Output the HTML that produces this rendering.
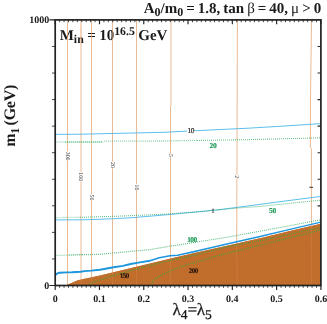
<!DOCTYPE html>
<html><head><meta charset="utf-8"><style>
html,body{margin:0;padding:0;background:#fff;overflow:hidden;}
svg{display:block;font-family:"Liberation Serif",serif;will-change:transform;opacity:0.999;text-rendering:geometricPrecision;}
</style></head><body>
<svg width="327" height="324" viewBox="0 0 327 324">
<rect width="327" height="324" fill="#fff"/>
<polygon points="65.8,285.5 77.8,280.3 100.0,275.6 125.0,269.4 150.0,263.6 175.0,257.4 200.0,251.8 228.0,245.4 260.0,238.2 290.0,231.1 320.9,223.8 320.9,285.5" fill="#c16d2c"/>
<path d="M67.5 20.0 L67.5 285.0" fill="none" stroke="#ecba92" stroke-width="1.0"/>
<path d="M81.0 20.0 L81.0 285.0" fill="none" stroke="#ecba92" stroke-width="1.0"/>
<path d="M91.5 20.0 L91.5 285.0" fill="none" stroke="#ecba92" stroke-width="1.0"/>
<path d="M112.5 20.0 L112.5 285.0" fill="none" stroke="#ecba92" stroke-width="1.0"/>
<path d="M136.5 20.0 L136.5 285.0" fill="none" stroke="#ecba92" stroke-width="1.0"/>
<path d="M171.0 20.0 L171.0 105.0 L170.5 107.0 L170.5 285.0" fill="none" stroke="#ecba92" stroke-width="1.0"/>
<path d="M237.4 20.0 L236.9 185.0 L236.6 259.0 L237.2 262.0 L237.2 285.0" fill="none" stroke="#ecba92" stroke-width="1.0"/>
<path d="M311.5 20.0 L310.5 100.0 L310.4 147.5 L311.4 148.8 L311.5 285.0" fill="none" stroke="#ecba92" stroke-width="1.0"/>
<polygon points="65.8,285.5 77.8,280.3 100.0,275.6 125.0,269.4 150.0,263.6 175.0,257.4 200.0,251.8 228.0,245.4 260.0,238.2 290.0,231.1 320.9,223.8 320.9,285.5" fill="#c16d2c" fill-opacity="0.86"/>
<path d="M55.3 134.4 L82.0 134.2 L120.0 133.3 L164.0 132.3 L200.0 130.5 L246.0 128.3 L280.0 126.3 L320.9 123.6" fill="none" stroke="#4ab8ea" stroke-width="0.9"/>
<path d="M55.3 219.9 L82.0 219.8 L100.0 219.3 L115.0 218.6 L130.0 217.8 L150.0 216.2 L164.0 215.0 L200.0 211.6 L220.0 209.6 L246.0 206.2 L280.0 201.7 L320.9 196.4" fill="none" stroke="#4ab8ea" stroke-width="0.9"/>
<path d="M55.3 142.0 L65.0 142.0" fill="none" stroke="#35ad68" stroke-width="0.70" stroke-opacity="0.50"/>
<path d="M65.0 142.0 L103.0 141.9" fill="none" stroke="#35ad68" stroke-width="1.05" stroke-dasharray="1.4 0.6" stroke-opacity="1.00"/>
<path d="M104.5 141.2 L110.0 141.2 L164.0 141.0 L197.0 140.4" fill="none" stroke="#35ad68" stroke-width="1.30" stroke-dasharray="0.7 1.25" stroke-opacity="0.80"/>
<path d="M197.0 140.5 L200.0 140.4 L246.0 139.7 L320.9 137.8" fill="none" stroke="#35ad68" stroke-width="1.05" stroke-dasharray="0.8 1.2" stroke-opacity="1.00"/>
<path d="M55.3 217.6 L80.0 217.3" fill="none" stroke="#35ad68" stroke-width="1.30" stroke-dasharray="0.5 0.6" stroke-opacity="0.55"/>
<path d="M80.0 217.3 L82.0 217.3 L120.0 216.1 L164.0 214.2 L200.0 211.6 L220.0 209.7 L230.0 208.7 L246.0 207.4 L258.0 206.6 L288.0 203.5 L320.9 200.2" fill="none" stroke="#35ad68" stroke-width="1.05" stroke-dasharray="0.8 1.2" stroke-opacity="1.00"/>
<path d="M55.3 255.4 L69.0 255.1" fill="none" stroke="#35ad68" stroke-width="0.70" stroke-opacity="0.50"/>
<path d="M69.0 255.1 L82.0 254.7" fill="none" stroke="#35ad68" stroke-width="1.00" stroke-dasharray="1.3 0.7" stroke-opacity="0.90"/>
<path d="M82.0 254.7 L100.0 254.3 L150.0 249.6 L170.0 246.2 L185.5 243.9 L197.0 242.0" fill="none" stroke="#35ad68" stroke-width="1.25" stroke-dasharray="0.75 1.25" stroke-opacity="1.00"/>
<path d="M197.0 242.0 L200.0 241.5 L228.0 237.1 L260.0 231.2 L290.0 225.6 L320.9 219.8" fill="none" stroke="#35ad68" stroke-width="1.05" stroke-dasharray="0.8 1.2" stroke-opacity="1.00"/>
<path d="M88.2 285.4 L91.0 283.4 L95.0 281.6 L100.0 280.0 L106.0 277.9 L112.2 275.9 L124.5 272.4 L136.7 269.0 L150.0 265.2 L200.0 253.8 L228.0 246.6 L260.0 240.9 L320.9 227.3" fill="none" stroke="#46a23a" stroke-width="1.3" stroke-dasharray="0.85 1.15"/>
<path d="M151.3 285.2 L153.1 280.9 L156.2 277.8 L162.3 274.7 L170.0 270.9 L177.8 267.8 L187.0 264.7 L200.0 260.8 L222.0 254.6 L260.0 245.2 L320.9 230.0" fill="none" stroke="#46a23a" stroke-width="1.3" stroke-dasharray="0.85 1.15"/>
<path d="M55.6 274.7 L57.5 273.4 L59.5 272.8 L66.8 272.4 L72.2 272.3 L80.6 271.7 L84.5 271.1 L91.3 270.6 L100.0 269.7 L112.2 267.5 L122.9 265.9 L130.6 264.0 L139.8 262.4 L150.0 260.8" fill="none" stroke="#1e96de" stroke-width="1.95" stroke-linejoin="round"/>
<path d="M150.0 260.8 L159.3 257.7 L170.0 255.8 L177.8 255.3 L185.5 253.5 L193.2 251.9 L200.0 250.2" fill="none" stroke="#1e96de" stroke-width="1.65" stroke-linejoin="round"/>
<path d="M200.0 250.2 L228.0 243.8 L260.0 236.5 L290.0 229.4 L320.9 222.1" fill="none" stroke="#1e96de" stroke-width="1.45" stroke-linejoin="round"/>
<rect x="55.2" y="19.9" width="265.7" height="265.6" fill="none" stroke="#222" stroke-width="1.7"/>
<path d="M55.20 285.5 v4.6 M55.20 19.9 v4.4 M99.48 285.5 v4.6 M99.48 19.9 v4.4 M143.77 285.5 v4.6 M143.77 19.9 v4.4 M188.05 285.5 v4.6 M188.05 19.9 v4.4 M232.33 285.5 v4.6 M232.33 19.9 v4.4 M276.62 285.5 v4.6 M276.62 19.9 v4.4 M320.90 285.5 v4.6 M320.90 19.9 v4.4 M55.2 285.50 h-5.8 M320.9 205.82 h-3.3 M320.9 179.26 h-3.3 M320.9 152.70 h-3.3 M320.9 126.14 h-3.3 M320.9 99.58 h-3.3 M320.9 73.02 h-3.3 M320.9 46.46 h-3.3 M55.2 19.90 h-5.8" fill="none" stroke="#222" stroke-width="1.15"/>
<path d="M59.63 285.5 v2.3 M59.63 19.9 v2.3 M64.06 285.5 v2.3 M64.06 19.9 v2.3 M68.48 285.5 v2.3 M68.48 19.9 v2.3 M72.91 285.5 v2.3 M72.91 19.9 v2.3 M77.34 285.5 v2.3 M77.34 19.9 v2.3 M81.77 285.5 v2.3 M81.77 19.9 v2.3 M86.20 285.5 v2.3 M86.20 19.9 v2.3 M90.63 285.5 v2.3 M90.63 19.9 v2.3 M95.06 285.5 v2.3 M95.06 19.9 v2.3 M103.91 285.5 v2.3 M103.91 19.9 v2.3 M108.34 285.5 v2.3 M108.34 19.9 v2.3 M112.77 285.5 v2.3 M112.77 19.9 v2.3 M117.20 285.5 v2.3 M117.20 19.9 v2.3 M121.62 285.5 v2.3 M121.62 19.9 v2.3 M126.05 285.5 v2.3 M126.05 19.9 v2.3 M130.48 285.5 v2.3 M130.48 19.9 v2.3 M134.91 285.5 v2.3 M134.91 19.9 v2.3 M139.34 285.5 v2.3 M139.34 19.9 v2.3 M148.19 285.5 v2.3 M148.19 19.9 v2.3 M152.62 285.5 v2.3 M152.62 19.9 v2.3 M157.05 285.5 v2.3 M157.05 19.9 v2.3 M161.48 285.5 v2.3 M161.48 19.9 v2.3 M165.91 285.5 v2.3 M165.91 19.9 v2.3 M170.34 285.5 v2.3 M170.34 19.9 v2.3 M174.77 285.5 v2.3 M174.77 19.9 v2.3 M179.19 285.5 v2.3 M179.19 19.9 v2.3 M183.62 285.5 v2.3 M183.62 19.9 v2.3 M192.48 285.5 v2.3 M192.48 19.9 v2.3 M196.91 285.5 v2.3 M196.91 19.9 v2.3 M201.33 285.5 v2.3 M201.33 19.9 v2.3 M205.76 285.5 v2.3 M205.76 19.9 v2.3 M210.19 285.5 v2.3 M210.19 19.9 v2.3 M214.62 285.5 v2.3 M214.62 19.9 v2.3 M219.05 285.5 v2.3 M219.05 19.9 v2.3 M223.48 285.5 v2.3 M223.48 19.9 v2.3 M227.91 285.5 v2.3 M227.91 19.9 v2.3 M236.76 285.5 v2.3 M236.76 19.9 v2.3 M241.19 285.5 v2.3 M241.19 19.9 v2.3 M245.62 285.5 v2.3 M245.62 19.9 v2.3 M250.05 285.5 v2.3 M250.05 19.9 v2.3 M254.48 285.5 v2.3 M254.48 19.9 v2.3 M258.90 285.5 v2.3 M258.90 19.9 v2.3 M263.33 285.5 v2.3 M263.33 19.9 v2.3 M267.76 285.5 v2.3 M267.76 19.9 v2.3 M272.19 285.5 v2.3 M272.19 19.9 v2.3 M281.05 285.5 v2.3 M281.05 19.9 v2.3 M285.47 285.5 v2.3 M285.47 19.9 v2.3 M289.90 285.5 v2.3 M289.90 19.9 v2.3 M294.33 285.5 v2.3 M294.33 19.9 v2.3 M298.76 285.5 v2.3 M298.76 19.9 v2.3 M303.19 285.5 v2.3 M303.19 19.9 v2.3 M307.62 285.5 v2.3 M307.62 19.9 v2.3 M312.04 285.5 v2.3 M312.04 19.9 v2.3 M316.47 285.5 v2.3 M316.47 19.9 v2.3 M55.2 258.94 h-3.2 M55.2 232.38 h-3.2 M55.2 205.82 h-3.2 M55.2 179.26 h-3.2 M55.2 152.70 h-3.2 M55.2 126.14 h-3.2 M55.2 99.58 h-3.2 M55.2 73.02 h-3.2 M55.2 46.46 h-3.2" fill="none" stroke="#222" stroke-width="0.85"/>
<text x="321.2" y="13.1" font-size="15.0" text-anchor="end" font-weight="bold" fill="#1a1a1a" word-spacing="-0.75">A<tspan font-size="12" dy="3.2">0</tspan><tspan dy="-3.2">/m</tspan><tspan font-size="12" dy="3.2">0</tspan><tspan dy="-3.2"> = 1.8, tan </tspan><tspan font-weight="normal">β</tspan> = 40, <tspan font-weight="normal">μ</tspan> &gt; 0</text>
<text x="59.7" y="39.8" font-size="15.0" text-anchor="start" font-weight="bold" fill="#1a1a1a" word-spacing="-0.3">M<tspan font-size="11.8" dy="3.2">in</tspan><tspan dy="-3.2"> = 10</tspan><tspan font-size="11.8" dy="-4.5">16.5</tspan><tspan dy="4.5"> GeV</tspan></text>
<line x1="67.5" y1="27" x2="67.5" y2="44" stroke="#ecba92" stroke-width="1" stroke-opacity="0.55"/>
<line x1="81.0" y1="27" x2="81.0" y2="44" stroke="#ecba92" stroke-width="1" stroke-opacity="0.55"/>
<line x1="91.5" y1="27" x2="91.5" y2="44" stroke="#ecba92" stroke-width="1" stroke-opacity="0.55"/>
<line x1="112.5" y1="27" x2="112.5" y2="44" stroke="#ecba92" stroke-width="1" stroke-opacity="0.55"/>
<line x1="136.5" y1="27" x2="136.5" y2="44" stroke="#ecba92" stroke-width="1" stroke-opacity="0.55"/>
<text transform="translate(14.7,146.8) rotate(-90)" font-size="16" font-weight="bold" fill="#1a1a1a" word-spacing="-1.2" letter-spacing="-0.25">m<tspan font-size="12" dy="4">1</tspan><tspan dy="-4"> (GeV)</tspan></text>
<text x="49.2" y="23.2" font-size="10.0" text-anchor="end" font-weight="bold" fill="#1a1a1a" >1000</text>
<text x="49.2" y="288.6" font-size="10.0" text-anchor="end" font-weight="bold" fill="#1a1a1a" >0</text>
<text x="55.2" y="301.5" font-size="10.0" text-anchor="middle" font-weight="bold" fill="#1a1a1a" >0</text>
<text x="99.5" y="301.5" font-size="10.0" text-anchor="middle" font-weight="bold" fill="#1a1a1a" >0.1</text>
<text x="143.8" y="301.5" font-size="10.0" text-anchor="middle" font-weight="bold" fill="#1a1a1a" >0.2</text>
<text x="188.1" y="301.5" font-size="10.0" text-anchor="middle" font-weight="bold" fill="#1a1a1a" >0.3</text>
<text x="232.3" y="301.5" font-size="10.0" text-anchor="middle" font-weight="bold" fill="#1a1a1a" >0.4</text>
<text x="276.6" y="301.5" font-size="10.0" text-anchor="middle" font-weight="bold" fill="#1a1a1a" >0.5</text>
<text x="320.9" y="301.5" font-size="10.0" text-anchor="middle" font-weight="bold" fill="#1a1a1a" >0.6</text>
<text x="172.5" y="315.2" font-size="17.2" text-anchor="start" font-weight="normal" fill="#1a1a1a" stroke="#1a1a1a" stroke-width="0.25">λ<tspan font-size="13.5" dy="3.6">4</tspan><tspan dy="-3.6" letter-spacing="-0.6">=</tspan>λ<tspan font-size="13.5" dy="3.6">5</tspan></text>
<rect x="187.2" y="128.1" width="7.2" height="5.6" fill="#fff"/>
<text x="190.8" y="133.2" font-size="7.4" text-anchor="middle" font-weight="normal" fill="#222" letter-spacing="-0.40" stroke="#222" stroke-width="0.2">10</text>
<text x="212.9" y="148.3" font-size="7.5" text-anchor="middle" font-weight="bold" fill="#1f9a58" letter-spacing="-0.45" stroke="#1f9a58" stroke-width="0.15">20</text>
<text x="213.0" y="212.5" font-size="6.8" text-anchor="middle" font-weight="normal" fill="#444" letter-spacing="0.00" stroke="#444" stroke-width="0.2">1</text>
<text x="272.4" y="212.9" font-size="7.5" text-anchor="middle" font-weight="bold" fill="#1f9a58" letter-spacing="-0.45" stroke="#1f9a58" stroke-width="0.15">50</text>
<text x="192.0" y="241.6" font-size="7.4" text-anchor="middle" font-weight="bold" fill="#1f9a58" letter-spacing="-0.45" stroke="#1f9a58" stroke-width="0.15">100</text>
<text x="124.3" y="277.7" font-size="7.1" text-anchor="middle" font-weight="bold" fill="#2a1810" letter-spacing="-0.45" stroke="#2a1810" stroke-width="0.15">150</text>
<text x="193.3" y="273.0" font-size="7.1" text-anchor="middle" font-weight="bold" fill="#2a1810" letter-spacing="-0.45" stroke="#2a1810" stroke-width="0.15">200</text>
<rect x="65.3" y="151.3" width="4.4" height="9.5" fill="#fff"/>
<text transform="translate(65.6,156.1) rotate(90)" font-size="5.8" text-anchor="middle" fill="#2a2a2a">300</text>
<rect x="78.8" y="171.9" width="4.4" height="9.5" fill="#fff"/>
<text transform="translate(79.1,176.7) rotate(90)" font-size="5.8" text-anchor="middle" fill="#2a2a2a">100</text>
<rect x="89.3" y="194.2" width="4.4" height="6.6" fill="#fff"/>
<text transform="translate(89.6,197.5) rotate(90)" font-size="5.8" text-anchor="middle" fill="#2a2a2a">50</text>
<rect x="110.3" y="161.7" width="4.4" height="6.6" fill="#fff"/>
<text transform="translate(110.6,165.0) rotate(90)" font-size="5.8" text-anchor="middle" fill="#2a2a2a">20</text>
<rect x="134.3" y="184.1" width="4.4" height="6.6" fill="#fff"/>
<text transform="translate(134.6,187.4) rotate(90)" font-size="5.8" text-anchor="middle" fill="#2a2a2a">10</text>
<rect x="168.3" y="153.8" width="4.4" height="3.2" fill="#fff"/>
<text transform="translate(168.6,155.4) rotate(90)" font-size="5.8" text-anchor="middle" fill="#2a2a2a">5</text>
<rect x="234.7" y="175.0" width="4.4" height="3.2" fill="#fff"/>
<text transform="translate(235.0,176.6) rotate(90)" font-size="5.8" text-anchor="middle" fill="#2a2a2a">2</text>
<rect x="309.4" y="186.8" width="3.6" height="1.0" fill="#333"/>
</svg>
</body></html>
